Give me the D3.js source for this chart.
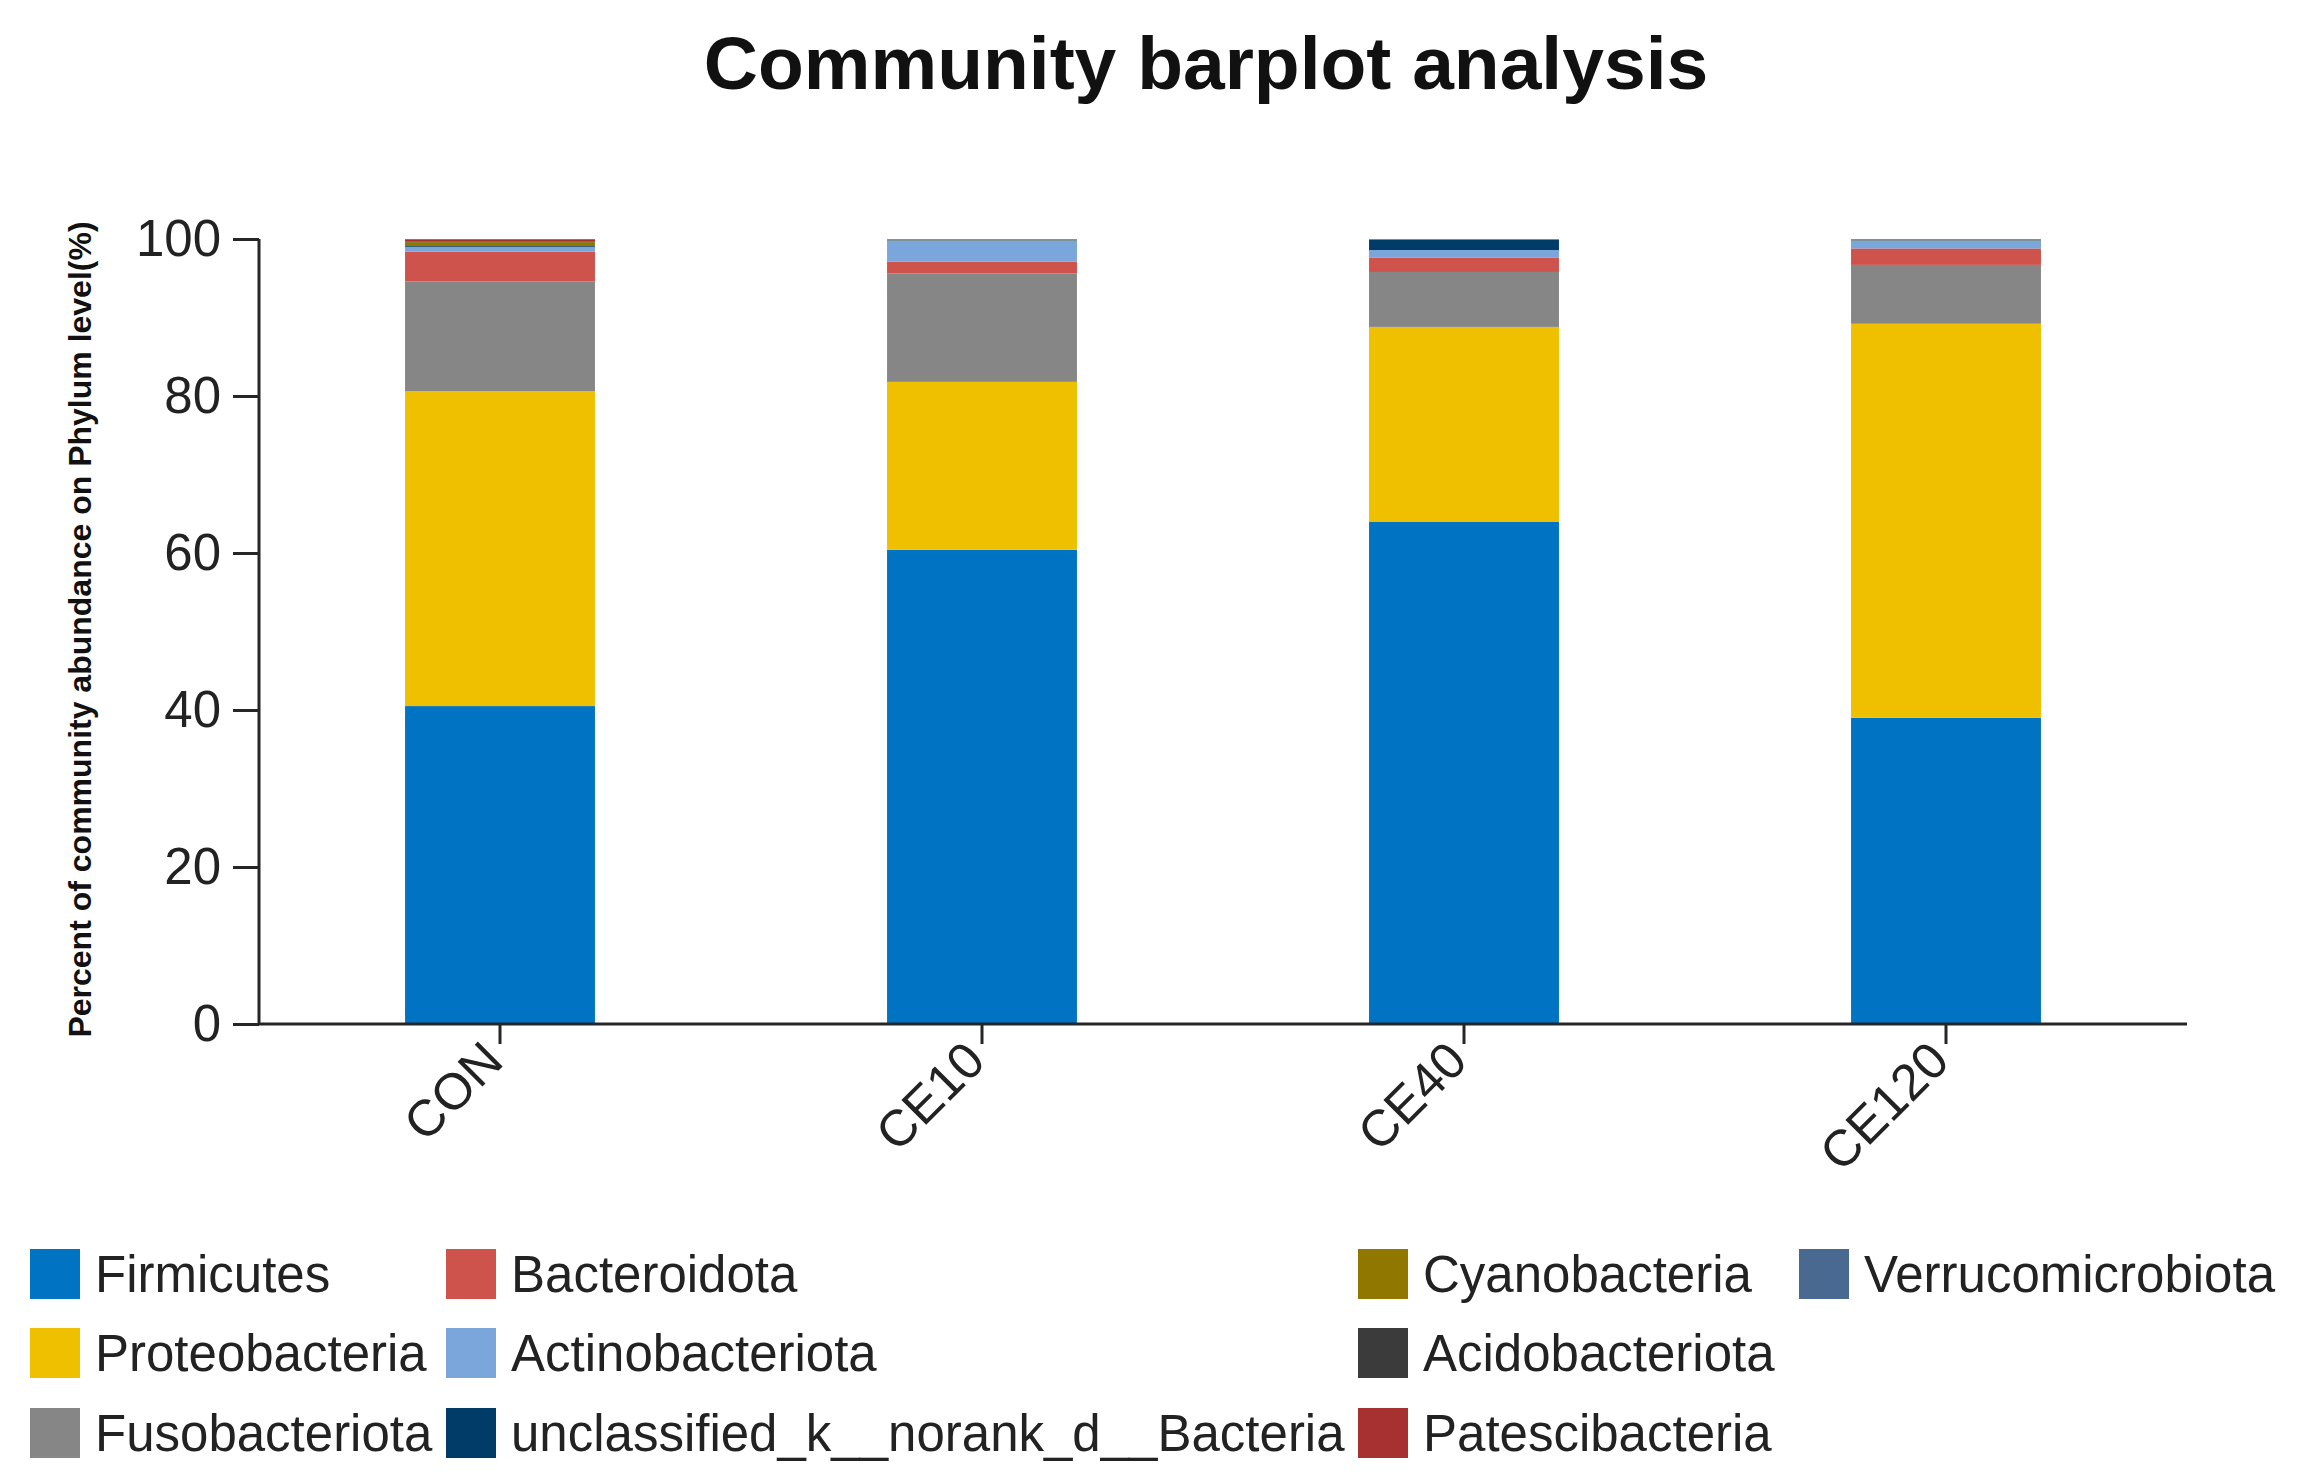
<!DOCTYPE html>
<html>
<head>
<meta charset="utf-8">
<script src="https://cdn.jsdelivr.net/npm/d3@7"></script>
<style>
  body { margin: 0; background: #fff; }
  svg { display: block; font-family: "Liberation Sans", Arial, sans-serif; }
</style>
</head>
<body>
<div id="chart"></div>
<script>
const width = 2305;
const height = 1483;

// samples on the x axis
const samples = ["CON", "CE10", "CE40", "CE120"];

// phyla, bottom of the stack first
const phyla = [
  "Firmicutes", "Proteobacteria", "Fusobacteriota", "Bacteroidota",
  "Actinobacteriota", "unclassified_k__norank_d__Bacteria",
  "Cyanobacteria", "Acidobacteriota", "Patescibacteria", "Verrucomicrobiota"
];

// percent abundance per phylum, one value per sample (CON, CE10, CE40, CE120)
const firmicutes        = [40.5, 60.4, 64.0, 39.0];
const proteobacteria    = [40.1, 21.4, 24.8, 50.2];
const fusobacteriota    = [14.0, 13.8, 7.0, 7.5];
const bacteroidota      = [3.8, 1.5, 1.8, 2.1];
const actinobacteriota  = [0.6, 2.7, 1.0, 1.0];
const unclassified      = [0.1, 0.05, 1.3, 0.05];
const cyanobacteria     = [0.5, 0.05, 0.03, 0.05];
const acidobacteriota   = [0.1, 0.02, 0.03, 0.03];
const patescibacteria   = [0.2, 0.03, 0.02, 0.04];
const verrucomicrobiota = [0.1, 0.05, 0.02, 0.03];

const yTicks = [0, 20, 40, 60, 80, 100];

const colors = ["#0073C2", "#EFC000", "#868686", "#CD534C", "#7AA6DC",
                "#003C67", "#8F7700", "#3B3B3B", "#A73030", "#4A6990"];

const seriesValues = [firmicutes, proteobacteria, fusobacteriota, bacteroidota,
  actinobacteriota, unclassified, cyanobacteria, acidobacteriota,
  patescibacteria, verrucomicrobiota];

// rows for d3.stack
const table = samples.map((s, i) => {
  const row = { sample: s };
  phyla.forEach((p, j) => { row[p] = seriesValues[j][i]; });
  return row;
});

const plot = { left: 259, right: 2187, top: 239, bottom: 1024 };
const axisColor = "#262626";

const svg = d3.select("#chart")
  .append("svg")
  .attr("width", width)
  .attr("height", height);

const x = d3.scaleBand()
  .domain(samples)
  .range([plot.left, plot.right])
  .paddingInner(0.606)
  .paddingOuter(0.303);

const y = d3.scaleLinear().domain([0, 100]).range([plot.bottom, plot.top]);

const color = d3.scaleOrdinal().domain(phyla).range(colors);

const stacked = d3.stack().keys(phyla)(table);

// bars
svg.append("g")
  .selectAll("g")
  .data(stacked)
  .enter()
  .append("g")
  .attr("fill", (d) => color(d.key))
  .selectAll("rect")
  .data((d) => d)
  .enter()
  .append("rect")
  .attr("x", (d) => x(d.data.sample))
  .attr("width", x.bandwidth())
  .attr("y", (d) => y(d[1]))
  .attr("height", (d) => y(d[0]) - y(d[1]));

// y axis
const yAxis = svg.append("g")
  .attr("transform", `translate(${plot.left},0)`)
  .call(d3.axisLeft(y).tickValues(yTicks).tickSize(26).tickPadding(12));

yAxis.selectAll("text")
  .style("font-size", "51px")
  .attr("fill", "#222");

// x axis
const xAxis = svg.append("g")
  .attr("transform", `translate(0,${plot.bottom})`)
  .call(d3.axisBottom(x).tickSize(20).tickSizeOuter(0));

xAxis.selectAll("text")
  .style("font-size", "51px")
  .attr("fill", "#222")
  .attr("text-anchor", "end")
  .attr("dy", "0.7em")
  .attr("transform", "translate(-36,-2) rotate(-45)");

[yAxis, xAxis].forEach((a) => {
  a.select(".domain").attr("stroke", axisColor).attr("stroke-width", 3);
  a.selectAll(".tick line").attr("stroke", axisColor).attr("stroke-width", 3);
});

// the x axis line runs from the y axis to the right end
xAxis.select(".domain").attr("d", `M${plot.left},0H${plot.right}`);
yAxis.select(".domain").attr("d", `M0,${plot.top}V${plot.bottom}`);

// titles
svg.append("text")
  .attr("x", 1206)
  .attr("y", 89)
  .attr("text-anchor", "middle")
  .style("font-size", "75px")
  .style("font-weight", "bold")
  .attr("fill", "#111")
  .text("Community barplot analysis");

svg.append("text")
  .attr("transform", `translate(91,${(plot.top + plot.bottom) / 2 - 2}) rotate(-90)`)
  .attr("text-anchor", "middle")
  .style("font-size", "32px")
  .style("font-weight", "bold")
  .attr("fill", "#111")
  .text("Percent of community abundance on Phylum level(%)");

// LEGEND
const legendCols = [30, 446, 1358, 1799];
const legendRows = [1274, 1353, 1433];
const swatch = 50;

const legendItems = svg.append("g")
  .attr("class", "legend")
  .selectAll("g")
  .data(phyla)
  .enter()
  .append("g")
  .attr("transform", (d, i) =>
    `translate(${legendCols[Math.floor(i / 3)]},${legendRows[i % 3]})`);

legendItems.append("rect")
  .attr("y", -swatch / 2)
  .attr("width", swatch)
  .attr("height", swatch)
  .attr("fill", (d) => color(d));

legendItems.append("text")
  .attr("x", swatch + 15)
  .attr("dy", "0.35em")
  .style("font-size", "51px")
  .attr("fill", "#222")
  .text((d) => d);
</script>
</body>
</html>
